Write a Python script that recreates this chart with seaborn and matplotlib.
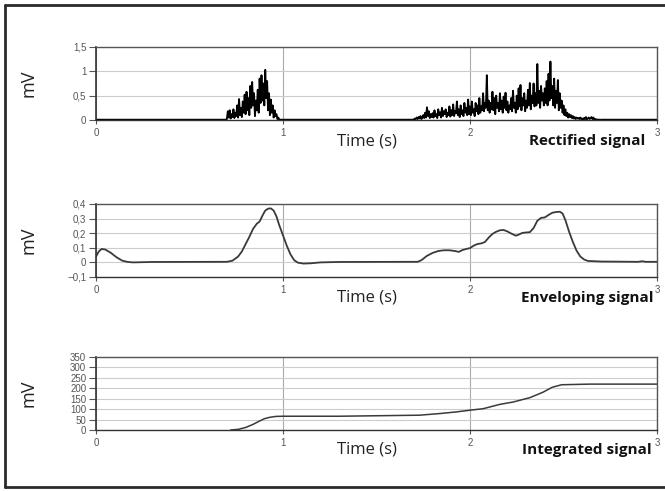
import numpy as np
import pandas as pd
import matplotlib
matplotlib.use("Agg")
import matplotlib.pyplot as plt
import seaborn as sns
from matplotlib.lines import Line2D

# ---------------- data ----------------
time_ticks = [0, 1, 2, 3]
time_tick_labels = ["0", "1", "2", "3"]

# Rectified signal: sampled every 5 ms inside the two bursts
rect_dt = 0.005
rect_burst1_start = 0.700
rect_burst1 = [0.02, 0.18, 0.05, 0.20, 0.03, 0.12, 0.06, 0.22, 0.04, 0.15,
               0.08, 0.30, 0.05, 0.43, 0.10, 0.25, 0.06, 0.38, 0.15, 0.52,
               0.12, 0.58, 0.20, 0.45, 0.10, 0.70, 0.25, 0.78, 0.30, 0.55,
               0.08, 0.40, 0.20, 0.62, 0.15, 0.85, 0.35, 0.92, 0.40, 0.75,
               0.30, 1.03, 0.45, 0.80, 0.20, 0.55, 0.10, 0.42, 0.15, 0.30,
               0.05, 0.20, 0.08, 0.12, 0.02, 0.05]
rect_burst2_start = 1.700
rect_burst2 = [0.01, 0.03, 0.02, 0.05, 0.02, 0.06, 0.03, 0.08, 0.02, 0.05,
               0.10, 0.04, 0.15, 0.05, 0.26, 0.08, 0.18, 0.04, 0.12, 0.06,
               0.14, 0.05, 0.20, 0.08, 0.12, 0.04, 0.22, 0.10, 0.16, 0.05,
               0.25, 0.08, 0.18, 0.12, 0.22, 0.06, 0.15, 0.10, 0.28, 0.07,
               0.20, 0.10, 0.32, 0.08, 0.18, 0.14, 0.38, 0.10, 0.22, 0.06,
               0.30, 0.12, 0.20, 0.08, 0.35, 0.15, 0.25, 0.10, 0.42, 0.12,
               0.28, 0.10, 0.38, 0.15, 0.22, 0.08, 0.35, 0.18, 0.30, 0.12,
               0.45, 0.15, 0.28, 0.20, 0.55, 0.18, 0.35, 0.25, 0.92, 0.20,
               0.40, 0.15, 0.35, 0.22, 0.58, 0.20, 0.45, 0.12, 0.50, 0.25,
               0.35, 0.18, 0.55, 0.22, 0.40, 0.15, 0.48, 0.25, 0.56, 0.20,
               0.38, 0.15, 0.30, 0.22, 0.45, 0.18, 0.60, 0.25, 0.35, 0.15,
               0.50, 0.22, 0.65, 0.28, 0.72, 0.20, 0.45, 0.30, 0.55, 0.18,
               0.40, 0.25, 0.62, 0.30, 0.76, 0.22, 0.50, 0.35, 0.75, 0.28,
               0.55, 0.30, 1.15, 0.35, 0.60, 0.25, 0.70, 0.40, 0.55, 0.30,
               0.65, 0.35, 0.80, 0.30, 0.95, 0.40, 1.20, 0.45, 0.70, 0.30,
               0.85, 0.25, 0.60, 0.35, 0.82, 0.20, 0.55, 0.25, 0.40, 0.15,
               0.30, 0.10, 0.22, 0.08, 0.15, 0.05, 0.12, 0.06, 0.10, 0.04,
               0.08, 0.03, 0.06, 0.02, 0.05, 0.03, 0.04, 0.02, 0.05, 0.02,
               0.03, 0.01, 0.04, 0.02, 0.06, 0.01, 0.03, 0.05, 0.02, 0.04,
               0.06, 0.02, 0.05, 0.01, 0.02, 0.01, 0.01, 0.00, 0.01, 0.00]
rect_baseline_t = [[0.0, 0.695], [0.980, 1.695], [2.700, 3.0]]
rect_baseline_v = 0.006

# Enveloping signal
env_t = [0.00, 0.015, 0.03, 0.05, 0.08, 0.11, 0.14, 0.17, 0.20, 0.30,
         0.70, 0.73, 0.76, 0.78, 0.80, 0.82, 0.84, 0.86, 0.875, 0.89,
         0.905, 0.92, 0.935, 0.95, 0.965, 0.98, 1.00, 1.02, 1.04, 1.06,
         1.08, 1.11, 1.15, 1.20, 1.30, 1.72, 1.74, 1.77, 1.80, 1.83,
         1.86, 1.89, 1.92, 1.94, 1.96, 1.98, 2.00, 2.02, 2.04, 2.06,
         2.08, 2.10, 2.12, 2.14, 2.16, 2.18, 2.20, 2.22, 2.245, 2.26,
         2.28, 2.30, 2.32, 2.34, 2.36, 2.38, 2.40, 2.42, 2.44, 2.46,
         2.48, 2.495, 2.51, 2.53, 2.55, 2.57, 2.59, 2.61, 2.63, 2.70,
         2.90, 2.92, 2.94, 3.00]
env_v = [0.040, 0.075, 0.092, 0.088, 0.065, 0.035, 0.012, 0.003, 0.000, 0.003,
         0.004, 0.012, 0.040, 0.075, 0.125, 0.175, 0.230, 0.265, 0.280, 0.320,
         0.355, 0.368, 0.370, 0.355, 0.315, 0.255, 0.185, 0.115, 0.055, 0.015,
         -0.002, -0.008, -0.006, 0.000, 0.003, 0.004, 0.015, 0.045, 0.065, 0.078,
         0.083, 0.083, 0.078, 0.072, 0.085, 0.092, 0.098, 0.115, 0.126, 0.130,
         0.140, 0.170, 0.195, 0.210, 0.220, 0.222, 0.212, 0.198, 0.183, 0.190,
         0.202, 0.205, 0.207, 0.235, 0.285, 0.305, 0.308, 0.325, 0.340, 0.345,
         0.347, 0.335, 0.290, 0.210, 0.140, 0.080, 0.040, 0.020, 0.010, 0.006,
         0.004, 0.008, 0.004, 0.004]

# Integrated signal
int_t = [0.72, 0.76, 0.80, 0.84, 0.87, 0.90, 0.93, 0.96, 1.00, 1.30,
         1.73, 1.84, 1.93, 2.00, 2.07, 2.16, 2.23, 2.32, 2.39, 2.44,
         2.49, 2.64, 3.00]
int_v = [0, 3, 12, 27, 41, 54, 61, 65, 66, 66,
         71, 79, 87, 95, 102, 123, 134, 155, 181, 205,
         217, 220, 220]

panel_titles = ["Rectified signal", "Enveloping signal", "Integrated signal"]
y_ticks = [[0, 0.5, 1, 1.5],
           [-0.1, 0, 0.1, 0.2, 0.3, 0.4],
           [0, 50, 100, 150, 200, 250, 300, 350]]
y_tick_labels = [["0", "0,5", "1", "1,5"],
                 ["\u22120,1", "0", "0,1", "0,2", "0,3", "0,4"],
                 ["0", "50", "100", "150", "200", "250", "300", "350"]]
y_limits = [(0, 1.5), (-0.1, 0.4), (0, 350)]

# ---------------- build tables ----------------
t1 = rect_burst1_start + rect_dt * np.arange(len(rect_burst1))
t2 = rect_burst2_start + rect_dt * np.arange(len(rect_burst2))
rect_t = (rect_baseline_t[0] + list(t1) + rect_baseline_t[1] + list(t2)
          + rect_baseline_t[2])
rect_v = ([rect_baseline_v] * 2 + rect_burst1 + [rect_baseline_v] * 2
          + rect_burst2 + [rect_baseline_v] * 2)
df_rect = pd.DataFrame({"t": rect_t, "v": rect_v})
df_env = pd.DataFrame({"t": env_t, "v": env_v})
df_int = pd.DataFrame({"t": int_t, "v": int_v})

# ---------------- figure ----------------
sns.set_theme(style="white")
plt.rcParams["font.family"] = ["Liberation Sans", "DejaVu Sans"]

W, H = 665, 491
fig = plt.figure(figsize=(W / 100, H / 100), dpi=100)

left_px, right_px = 96, 657
panels_px = [(47, 120), (204, 277), (357, 430)]
label_y_px = [141, 298, 450]

line_styles = [dict(color="#000000", linewidth=1.35),
               dict(color="#3a3a3a", linewidth=1.3),
               dict(color="#3a3a3a", linewidth=1.1)]
dfs = [df_rect, df_env, df_int]

for i, (top, bot) in enumerate(panels_px):
    ax = fig.add_axes([left_px / W, 1 - bot / H,
                       (right_px - left_px) / W, (bot - top) / H])
    ax.set_xlim(0, 3)
    ax.set_ylim(*y_limits[i])
    ax.set_xticks(time_ticks)
    ax.set_xticklabels(time_tick_labels)
    ax.set_yticks(y_ticks[i])
    ax.set_yticklabels(y_tick_labels[i])
    ax.grid(axis="y", color="#cccccc", linewidth=0.8)
    ax.grid(axis="x", color="#aaaaaa", linewidth=0.8)
    ax.set_axisbelow(True)
    sns.lineplot(data=dfs[i], x="t", y="v", ax=ax, estimator=None,
                 sort=False, **line_styles[i])
    for name, sp in ax.spines.items():
        sp.set_visible(True)
        sp.set_color("#555555")
        sp.set_linewidth(1.0)
    ax.spines["left"].set_color("#333333")
    ax.spines["left"].set_linewidth(1.2)
    ax.spines["bottom"].set_color("#333333")
    ax.tick_params(axis="y", direction="out", length=5, width=0.8,
                   color="#555555", pad=2, labelsize=7, labelcolor="#555555",
                   left=True)
    ax.tick_params(axis="x", direction="out", length=3, width=0.8,
                   color="#555555", pad=3, labelsize=7, labelcolor="#555555",
                   bottom=True)
    ax.set_xlabel("")
    ax.set_ylabel("mV", fontsize=13, family=["Open Sans", "DejaVu Sans"],
                  color="#222222")
    ax.yaxis.set_label_coords((38 - left_px) / (right_px - left_px), 0.5)

    fig.text(367 / W, 1 - label_y_px[i] / H, "Time (s)", ha="center",
             va="center", fontsize=12, family=["Open Sans", "DejaVu Sans"],
             color="#222222")
    fig.text(587 / W, 1 - label_y_px[i] / H, panel_titles[i], ha="center",
             va="center", fontsize=11, fontweight="bold",
             family=["Open Sans", "DejaVu Sans"], color="#111111")

# outer frame (open on the right edge)
frame_kw = dict(color="#2a2a2a", linewidth=2.0, transform=fig.transFigure)
fig.add_artist(Line2D([5 / W, 1.0], [1 - 5 / H, 1 - 5 / H], **frame_kw))
fig.add_artist(Line2D([5 / W, 1.0], [1 - 487 / H, 1 - 487 / H], **frame_kw))
fig.add_artist(Line2D([5 / W, 5 / W], [1 - 5 / H, 1 - 487 / H], **frame_kw))

fig.savefig("out.png", dpi=100)
